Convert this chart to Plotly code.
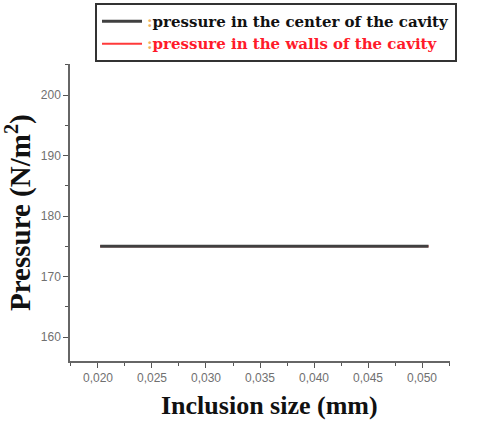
import plotly.graph_objects as go

# Inclusion size (mm) and the two pressure series (N/m^2)
inclusion_size = [0.0202, 0.025, 0.030, 0.035, 0.040, 0.045, 0.0506]
pressure_center = [175, 175, 175, 175, 175, 175, 175]
pressure_walls = [175, 175, 175, 175, 175, 175, 175]

x_tick_vals = [0.020, 0.025, 0.030, 0.035, 0.040, 0.045, 0.050]
x_tick_text = ["0,020", "0,025", "0,030", "0,035", "0,040", "0,045", "0,050"]
y_tick_vals = [160, 170, 180, 190, 200]

serif = "Liberation Serif, Times New Roman, serif"
wide_serif = "DejaVu Serif, serif"
sans = "Liberation Sans, Arial, sans-serif"
colon = "<span style='color:#f2b060'>:</span>"

fig = go.Figure()
# walls curve first so the centre curve sits on top of it
fig.add_trace(go.Scatter(
    x=inclusion_size, y=pressure_walls, mode="lines",
    line=dict(color="#ff3a3a", width=2.0),
    name=colon + "<span style='color:#ff1a2a'>pressure in the walls of the cavity</span>",
    legendrank=2,
))
fig.add_trace(go.Scatter(
    x=inclusion_size, y=pressure_center, mode="lines",
    line=dict(color="#404040", width=3.0),
    name=colon + "pressure in the center of the cavity",
    legendrank=1,
))

# paper spans the full height above the bottom margin; the plot box
# is kept below the legend through the y-axis domain
fig.update_layout(
    width=480, height=425,
    margin=dict(l=70, r=30, t=0, b=64),
    paper_bgcolor="white", plot_bgcolor="white",
    showlegend=True,
    legend=dict(
        x=0.0658, y=0.992, xanchor="left", yanchor="top",
        bordercolor="#333333", borderwidth=2, bgcolor="white",
        font=dict(family=wide_serif, size=15, color="#111111", weight="bold"),
        itemwidth=40, tracegroupgap=0,
    ),
    xaxis=dict(
        range=[0.01741, 0.05259],
        tickmode="array", tickvals=x_tick_vals, ticktext=x_tick_text,
        ticks="outside", ticklen=5, tickwidth=1.2, tickcolor="#555555",
        minor=dict(ticks="outside", ticklen=3, tickwidth=1, tickcolor="#555555", dtick=0.005, tick0=0.0225),
        showline=True, linecolor="#666666", linewidth=1.5,
        showgrid=False, zeroline=False,
        tickfont=dict(family=sans, size=12, color="#707070"),
    ),
    yaxis=dict(
        domain=[0, 0.822],
        range=[156.05, 205.1],
        tickmode="array", tickvals=y_tick_vals,
        ticks="outside", ticklen=5, tickwidth=1.2, tickcolor="#555555",
        minor=dict(ticks="outside", ticklen=3, tickwidth=1, tickcolor="#555555", dtick=5, tick0=155),
        showline=True, linecolor="#666666", linewidth=1.5,
        showgrid=False, zeroline=False,
        tickfont=dict(family=sans, size=12, color="#707070"),
        title=dict(text="Pressure (N/m<sup>2</sup>)", standoff=4,
                   font=dict(family=serif, size=29, color="#111111", weight="bold")),
    ),
    annotations=[dict(
        text="Inclusion size (mm)", xref="paper", yref="paper",
        x=0.526, y=-0.122, xanchor="center", yanchor="middle", showarrow=False,
        font=dict(family=serif, size=26, color="#111111", weight="bold"),
    )],
)

fig.write_html("out.html")
